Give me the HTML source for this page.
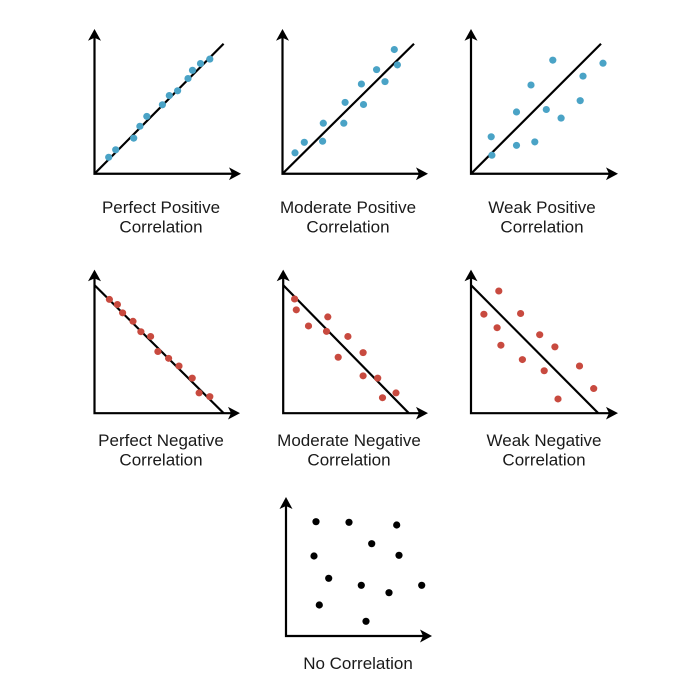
<!DOCTYPE html>
<html><head><meta charset="utf-8"><style>
html,body{margin:0;padding:0;background:#fff;}
svg{display:block;}
text{font-family:"Liberation Sans","DejaVu Sans",sans-serif;font-size:17px;fill:#1a1a1a;text-anchor:middle;}
</style></head><body>
<svg width="700" height="700" viewBox="0 0 700 700" xmlns="http://www.w3.org/2000/svg">
<defs>
<path id="au" d="M0,0 L-6.5,12 L0,9 L6.5,12 Z" fill="#000"/>
<path id="ar" d="M0,0 L-12,-6.5 L-9,0 L-12,6.5 Z" fill="#000"/>
</defs>
<g transform="translate(0,25) scale(1,0.985) translate(0,-25)">
<g stroke="#000" stroke-width="2.2" fill="none">
<path d="M94.5,36 V176 H234"/>
<path d="M282.5,36 V176 H421"/>
<path d="M471,36 V176 H611"/>
<line x1="94.5" y1="176" x2="223.6" y2="44"/>
<line x1="282.5" y1="176" x2="414" y2="44"/>
<line x1="471" y1="176" x2="601" y2="44"/>
</g>
<use href="#au" x="94.5" y="29"/><use href="#ar" x="241" y="176"/>
<use href="#au" x="282.5" y="29"/><use href="#ar" x="428" y="176"/>
<use href="#au" x="471" y="29"/><use href="#ar" x="618" y="176"/>
<g fill="#4aa3c6">
<circle cx="108.7" cy="159.3" r="3.6"/><circle cx="115.7" cy="151.7" r="3.6"/><circle cx="133.7" cy="139.9" r="3.6"/><circle cx="139.9" cy="127.8" r="3.6"/><circle cx="146.8" cy="117.8" r="3.6"/><circle cx="162.4" cy="106" r="3.6"/><circle cx="169.3" cy="96.6" r="3.6"/><circle cx="177.6" cy="91.8" r="3.6"/><circle cx="188" cy="79.3" r="3.6"/><circle cx="192.5" cy="71" r="3.6"/><circle cx="200.5" cy="64.1" r="3.6"/><circle cx="209.8" cy="59.6" r="3.6"/>
<circle cx="295" cy="154.8" r="3.6"/><circle cx="304.3" cy="144.1" r="3.6"/><circle cx="322.6" cy="143" r="3.6"/><circle cx="323.3" cy="124.7" r="3.6"/><circle cx="343.8" cy="124.7" r="3.6"/><circle cx="345.1" cy="103.6" r="3.6"/><circle cx="363.5" cy="105.7" r="3.6"/><circle cx="361.4" cy="84.9" r="3.6"/><circle cx="376.6" cy="70.3" r="3.6"/><circle cx="385" cy="82.5" r="3.6"/><circle cx="394.3" cy="49.9" r="3.6"/><circle cx="397.4" cy="65.5" r="3.6"/>
<circle cx="491.2" cy="138.5" r="3.6"/><circle cx="491.9" cy="157.2" r="3.6"/><circle cx="516.5" cy="113.3" r="3.6"/><circle cx="516.5" cy="147.2" r="3.6"/><circle cx="531" cy="85.9" r="3.6"/><circle cx="534.8" cy="143.7" r="3.6"/><circle cx="546.3" cy="110.8" r="3.6"/><circle cx="552.8" cy="60.7" r="3.6"/><circle cx="561.1" cy="119.5" r="3.6"/><circle cx="580.2" cy="101.8" r="3.6"/><circle cx="583" cy="76.9" r="3.6"/><circle cx="603" cy="63.8" r="3.6"/>
</g>
</g>
<g transform="translate(0,255) scale(1,0.972) translate(0,-255)">
<g stroke="#000" stroke-width="2.2" fill="none">
<path d="M94.5,277 V417.7 H233"/>
<path d="M283.2,277 V417.7 H421"/>
<path d="M471,277 V417.7 H611"/>
<line x1="94.5" y1="286" x2="223.6" y2="417.7"/>
<line x1="283.2" y1="286" x2="408.8" y2="417.7"/>
<line x1="471" y1="286" x2="598.2" y2="417.7"/>
</g>
<use href="#au" x="94.5" y="270"/><use href="#ar" x="240" y="417.7"/>
<use href="#au" x="283.2" y="270"/><use href="#ar" x="428" y="417.7"/>
<use href="#au" x="471" y="270"/><use href="#ar" x="618" y="417.7"/>
<g fill="#c84a3f">
<circle cx="109.4" cy="300.7" r="3.6"/><circle cx="117.4" cy="305.9" r="3.6"/><circle cx="122.6" cy="314.5" r="3.6"/><circle cx="133" cy="323.2" r="3.6"/><circle cx="140.9" cy="333.9" r="3.6"/><circle cx="150.6" cy="338.8" r="3.6"/><circle cx="157.9" cy="354.3" r="3.6"/><circle cx="168.6" cy="361.3" r="3.6"/><circle cx="179" cy="369.2" r="3.6"/><circle cx="192.2" cy="381.7" r="3.6"/><circle cx="199.1" cy="396.9" r="3.6"/><circle cx="209.8" cy="400.7" r="3.6"/>
<circle cx="294.6" cy="300.3" r="3.6"/><circle cx="296.3" cy="311.4" r="3.6"/><circle cx="308.5" cy="328" r="3.6"/><circle cx="327.8" cy="318.7" r="3.6"/><circle cx="326.5" cy="333.6" r="3.6"/><circle cx="347.9" cy="338.8" r="3.6"/><circle cx="338.2" cy="360.2" r="3.6"/><circle cx="363.1" cy="355.4" r="3.6"/><circle cx="363.1" cy="379.3" r="3.6"/><circle cx="377.7" cy="381.7" r="3.6"/><circle cx="382.5" cy="401.8" r="3.6"/><circle cx="396" cy="396.9" r="3.6"/>
<circle cx="498.8" cy="292" r="3.6"/><circle cx="483.9" cy="315.9" r="3.6"/><circle cx="520.6" cy="315.2" r="3.6"/><circle cx="497.1" cy="329.8" r="3.6"/><circle cx="500.9" cy="347.8" r="3.6"/><circle cx="539.7" cy="337" r="3.6"/><circle cx="554.9" cy="349.5" r="3.6"/><circle cx="522.4" cy="362.6" r="3.6"/><circle cx="544.2" cy="374.1" r="3.6"/><circle cx="579.5" cy="369.2" r="3.6"/><circle cx="558" cy="403.1" r="3.6"/><circle cx="593.7" cy="392.4" r="3.6"/>
</g>
</g>
<path d="M286,504 V636 H425" stroke="#000" stroke-width="2.2" fill="none"/>
<use href="#au" x="286" y="497"/><use href="#ar" x="432" y="636"/>
<g fill="#000">
<circle cx="316" cy="521.7" r="3.6"/><circle cx="349" cy="522.3" r="3.6"/><circle cx="396.7" cy="525" r="3.6"/><circle cx="371.7" cy="543.7" r="3.6"/><circle cx="314" cy="556" r="3.6"/><circle cx="399" cy="555.3" r="3.6"/><circle cx="328.7" cy="578.3" r="3.6"/><circle cx="361.3" cy="585.3" r="3.6"/><circle cx="389" cy="592.7" r="3.6"/><circle cx="421.7" cy="585.3" r="3.6"/><circle cx="319.3" cy="605" r="3.6"/><circle cx="366" cy="621.3" r="3.6"/>
</g>
<text x="161" y="213">Perfect Positive</text><text x="161" y="232.5">Correlation</text>
<text x="348" y="213">Moderate Positive</text><text x="348" y="232.5">Correlation</text>
<text x="542" y="213">Weak Positive</text><text x="542" y="232.5">Correlation</text>
<text x="161" y="446">Perfect Negative</text><text x="161" y="465.5">Correlation</text>
<text x="349" y="446">Moderate Negative</text><text x="349" y="465.5">Correlation</text>
<text x="544" y="446">Weak Negative</text><text x="544" y="465.5">Correlation</text>
<text x="358" y="669">No Correlation</text>
</svg>
</body></html>
